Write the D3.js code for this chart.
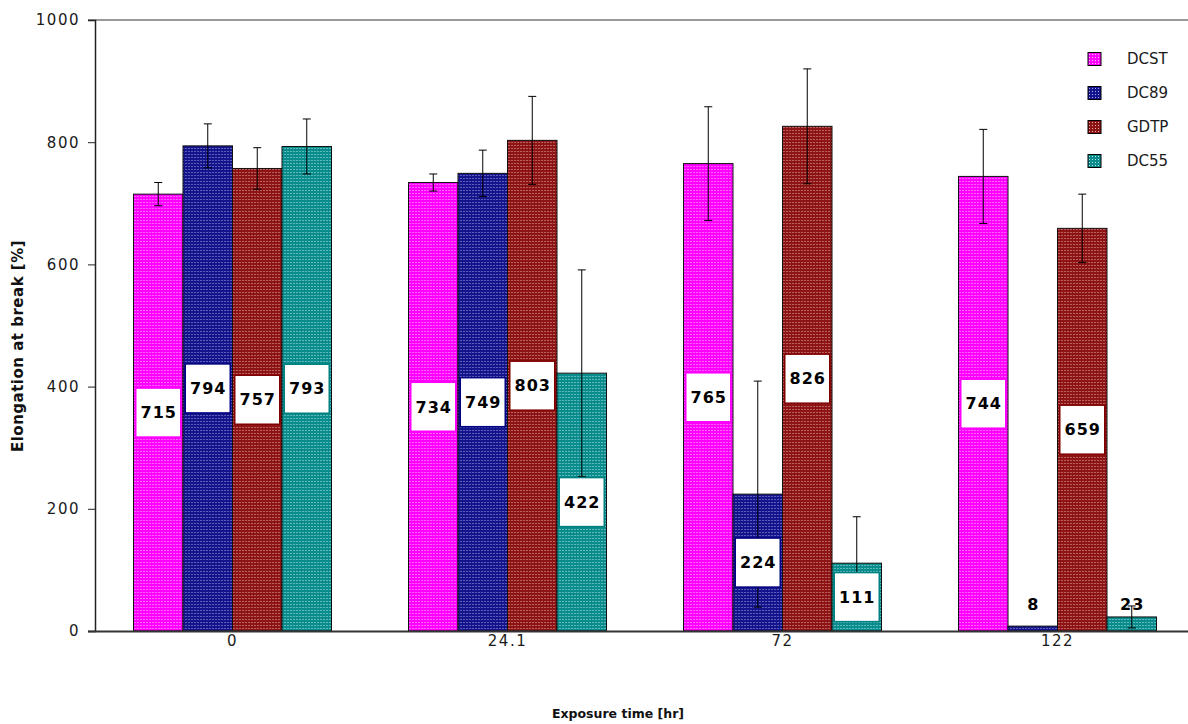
<!DOCTYPE html>
<html><head><meta charset="utf-8">
<script src="https://cdn.jsdelivr.net/npm/d3@7"></script>
<style>
body{margin:0;background:#fff;}
svg{display:block;font-family:"DejaVu Sans",sans-serif;}
</style></head>
<body><svg id="c" width="1188" height="724"></svg>
<script>
const categories = ["0","24.1","72","122"];
const seriesNames = ["DCST","DC89","GDTP","DC55"];
const DCST = [715,734,765,744];
const DC89 = [794,749,224,8];
const GDTP = [757,803,826,659];
const DC55 = [793,422,111,23];
const errDCST = [19,14,93,77];
const errDC89 = [36,38,185,0];
const errGDTP = [34,72,94,56];
const errDC55 = [45,169,76,18];
const yTicks = [0,200,400,600,800,1000];

const values = [DCST,DC89,GDTP,DC55];
const errors = [errDCST,errDC89,errGDTP,errDC55];
const baseCol = ["#ff00ff","#14148c","#8c1414","#0a8c8c"];
const dotCol  = ["#ffc0ff","#a8a8e8","#e8acac","#b0e8e8"];
const edgeCol = ["#ff00ff","#000080","#800000","#008080"];

const svg = d3.select("#c");
const defs = svg.append("defs");
seriesNames.forEach((s,i)=>{
  const p = defs.append("pattern").attr("id","pat"+i).attr("patternUnits","userSpaceOnUse")
    .attr("width",3).attr("height",3);
  p.append("rect").attr("width",3).attr("height",3).attr("fill",baseCol[i]);
  p.append("rect").attr("x",1).attr("y",1).attr("width",1).attr("height",1).attr("fill",dotCol[i]);
});

const x0 = d3.scaleBand().domain(categories).range([95,1195]).paddingInner(0.28).paddingOuter(0.14);
const x1 = d3.scaleBand().domain(seriesNames).range([0,x0.bandwidth()]);
const y = d3.scaleLinear().domain([0,1000]).range([631,20]);

// top gray line
svg.append("line").attr("x1",88).attr("x2",1188).attr("y1",y(1000)).attr("y2",y(1000))
  .attr("stroke","#999").attr("stroke-width",2);

// y axis
const yAxis = svg.append("g").attr("transform","translate(95,0)")
  .call(d3.axisLeft(y).tickValues(yTicks).tickFormat(d3.format("d")).tickSize(7).tickPadding(8));
yAxis.select(".domain").attr("stroke","#222").attr("stroke-width",1.5);
yAxis.selectAll(".tick line").attr("stroke","#222");
yAxis.selectAll("text").attr("font-size",15).attr("fill","#1a1a1a").attr("letter-spacing",1.5)
  .attr("font-family","DejaVu Sans");

// bars
const groups = svg.append("g").selectAll("g").data(categories).join("g")
  .attr("transform",d=>`translate(${x0(d)},0)`);
seriesNames.forEach((s,si)=>{
  groups.append("rect")
    .attr("x",x1(s)).attr("width",x1.bandwidth())
    .attr("y",(d,ci)=>y(values[si][ci]))
    .attr("height",(d,ci)=>y(0)-y(values[si][ci]))
    .attr("fill",`url(#pat${si})`).attr("stroke","#111").attr("stroke-width",1);
});

// x axis line
svg.append("line").attr("x1",88).attr("x2",1188).attr("y1",y(0)+0.5).attr("y2",y(0)+0.5)
  .attr("stroke","#333").attr("stroke-width",2);

// error bars
seriesNames.forEach((s,si)=>{
  categories.forEach((c,ci)=>{
    const e = errors[si][ci]; if(!e) return;
    const cx = x0(c)+x1(s)+x1.bandwidth()/2;
    const v = values[si][ci];
    const g = svg.append("g").attr("stroke","#000").attr("stroke-width",1);
    g.append("line").attr("x1",cx).attr("x2",cx).attr("y1",y(v+e)).attr("y2",y(Math.max(0,v-e)));
    g.append("line").attr("x1",cx-4).attr("x2",cx+4).attr("y1",y(v+e)).attr("y2",y(v+e));
    g.append("line").attr("x1",cx-4).attr("x2",cx+4).attr("y1",y(Math.max(0,v-e))).attr("y2",y(Math.max(0,v-e)));
  });
});

// data labels
const boxW = 45, boxH = 49;
seriesNames.forEach((s,si)=>{
  categories.forEach((c,ci)=>{
    const v = values[si][ci];
    const cx = x0(c)+x1(s)+x1.bandwidth()/2;
    const barH = y(0)-y(v);
    let cy;
    if(barH > boxH+4){
      cy = (y(v)+y(0))/2;
      svg.append("rect").attr("x",cx-boxW/2).attr("y",cy-boxH/2).attr("width",boxW).attr("height",boxH)
        .attr("fill","#fff").attr("stroke",edgeCol[si]).attr("stroke-width",1.5);
    } else {
      cy = y(0)-27;
    }
    svg.append("text").attr("x",cx+0.5).attr("y",cy).attr("dy","0.36em").attr("text-anchor","middle")
      .attr("font-size",16).attr("font-weight","bold").attr("letter-spacing",1).attr("fill","#000").text(v);
  });
});

// x tick labels
svg.append("g").selectAll("text").data(categories).join("text")
  .attr("x",d=>x0(d)+x0.bandwidth()/2).attr("y",641).attr("dy","0.36em")
  .attr("text-anchor","middle").attr("font-size",15).attr("fill","#1a1a1a").attr("letter-spacing",1.5)
  .text(d=>d);

// axis titles
svg.append("text").attr("x",618).attr("y",713).attr("dy","0.36em").attr("text-anchor","middle")
  .attr("font-size",12.5).attr("font-weight","bold").attr("fill","#111").text("Exposure time [hr]");
svg.append("text").attr("transform","translate(18,346) rotate(-90)").attr("dy","0.36em")
  .attr("text-anchor","middle").attr("font-size",15).attr("font-weight","bold").attr("fill","#111")
  .attr("letter-spacing",0.5).text("Elongation at break [%]");

// legend
const leg = svg.append("g").selectAll("g").data(seriesNames).join("g")
  .attr("transform",(d,i)=>`translate(1088,${59+i*34})`);
leg.append("rect").attr("x",0).attr("y",-6.5).attr("width",13).attr("height",13)
  .attr("fill",(d,i)=>`url(#pat${i})`).attr("stroke","#000").attr("stroke-width",1);
leg.append("text").attr("x",39).attr("y",0).attr("dy","0.36em").attr("font-size",15)
  .attr("fill","#1a1a1a").attr("font-family","DejaVu Sans").text(d=>d);
</script></body></html>
